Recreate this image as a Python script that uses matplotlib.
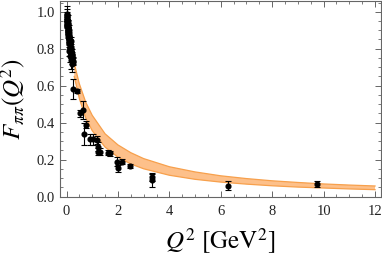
import matplotlib
matplotlib.use("Agg")
import matplotlib.pyplot as plt
from matplotlib.ticker import MultipleLocator

plt.rcParams['mathtext.fontset'] = 'stix'
plt.rcParams['font.family'] = ['Liberation Serif', 'DejaVu Serif']

# Theory band
band_q = [0.3, 0.5, 0.75, 1.0, 1.5, 2.0, 2.5, 3.0, 4.0, 5.0, 6.0, 7.0, 8.0, 9.0, 10.0, 11.0, 12.0]
band_hi = [0.72, 0.61, 0.51, 0.44, 0.34, 0.28, 0.238, 0.206, 0.162, 0.134, 0.113, 0.098, 0.086, 0.077, 0.069, 0.063, 0.058]
band_lo = [0.65, 0.53, 0.425, 0.357, 0.268, 0.214, 0.177, 0.151, 0.116, 0.094, 0.079, 0.068, 0.059, 0.052, 0.047, 0.042, 0.038]

# Data points
q_data = [0.015, 0.018, 0.021, 0.024, 0.027, 0.030, 0.033, 0.036, 0.039, 0.043, 0.047, 0.051,
          0.055, 0.060, 0.065, 0.070, 0.075, 0.080, 0.086, 0.092, 0.098, 0.105, 0.112, 0.120,
          0.128, 0.136, 0.145, 0.155, 0.165, 0.175, 0.186, 0.198, 0.21, 0.22, 0.235, 0.25,
          0.03, 0.05, 0.08, 0.11, 0.14, 0.17, 0.2, 0.1, 0.13, 0.16,
          0.18, 0.2, 0.26, 0.39, 0.52, 0.64, 0.68, 0.75, 0.9, 1.04, 1.19, 1.23, 1.23, 1.32,
          1.62, 1.71, 1.95, 2.0, 2.14, 2.46, 3.31, 3.31, 6.3, 9.75]
f_data = [0.975, 0.965, 0.96, 0.955, 0.95, 0.945, 0.94, 0.93, 0.935, 0.92, 0.915, 0.91,
          0.90, 0.895, 0.89, 0.88, 0.885, 0.87, 0.86, 0.855, 0.85, 0.845, 0.83, 0.825,
          0.82, 0.81, 0.80, 0.79, 0.785, 0.78, 0.77, 0.76, 0.75, 0.74, 0.735, 0.73,
          0.99, 0.95, 0.9, 0.86, 0.83, 0.8, 0.77, 0.79, 0.76, 0.84,
          0.74, 0.72, 0.582, 0.571, 0.45, 0.47, 0.34, 0.39, 0.31, 0.31, 0.306, 0.27, 0.243, 0.243,
          0.238, 0.234, 0.19, 0.153, 0.19, 0.166, 0.105, 0.09, 0.06, 0.068]
f_err = [0.04, 0.035, 0.03, 0.03, 0.025, 0.025, 0.02, 0.02, 0.02, 0.02, 0.02, 0.02,
         0.02, 0.02, 0.02, 0.02, 0.02, 0.02, 0.02, 0.02, 0.02, 0.02, 0.02, 0.02,
         0.02, 0.02, 0.02, 0.02, 0.02, 0.02, 0.02, 0.02, 0.02, 0.02, 0.02, 0.02,
         0.04, 0.03, 0.03, 0.025, 0.025, 0.025, 0.03, 0.03, 0.03, 0.025,
         0.05, 0.045, 0.055, 0.01, 0.02, 0.05, 0.06, 0.02, 0.03, 0.03, 0.02, 0.025, 0.02, 0.02,
         0.015, 0.015, 0.025, 0.02, 0.015, 0.01, 0.02, 0.037, 0.025, 0.015]

fig = plt.figure(figsize=(3.82, 2.57), dpi=100)
ax = fig.add_axes([0.158, 0.2346, 0.8386, 0.7614])

ax.fill_between(band_q, band_lo, band_hi, facecolor='#fdc08a', edgecolor='none', zorder=1)
ax.plot(band_q, band_hi, color='#f7a04c', lw=0.9, zorder=2)
ax.plot(band_q, band_lo, color='#f7a04c', lw=0.9, zorder=2)

ax.errorbar(q_data, f_data, yerr=f_err, fmt='o', color='black', ms=3.4,
            elinewidth=0.8, capsize=2.2, capthick=0.8, zorder=3)

ax.set_xlim(-0.24, 12.22)
ax.set_ylim(0, 1.058)
ax.xaxis.set_major_locator(MultipleLocator(2))
ax.xaxis.set_minor_locator(MultipleLocator(0.5))
ax.yaxis.set_major_locator(MultipleLocator(0.2))
ax.yaxis.set_minor_locator(MultipleLocator(0.05))
ax.yaxis.set_major_formatter(matplotlib.ticker.FormatStrFormatter('%.1f'))

for s in ax.spines.values():
    s.set_color('#666666')
    s.set_linewidth(0.8)
ax.tick_params(which='both', direction='in', top=True, right=True, color='#666666',
               labelsize=10.5, labelcolor='#222222')
ax.tick_params(which='major', length=4, width=0.7)
ax.tick_params(which='minor', length=2, width=0.6)
ax.tick_params(axis='x', pad=6)
ax.tick_params(axis='y', pad=4)

ax.set_xlabel(r'$Q^2\ [\mathrm{GeV}^2]$', fontsize=18, labelpad=6)
ax.set_ylabel(r'$F_{\pi\pi}(Q^2)$', fontsize=18, labelpad=6)

fig.savefig('out.png', dpi=100)
